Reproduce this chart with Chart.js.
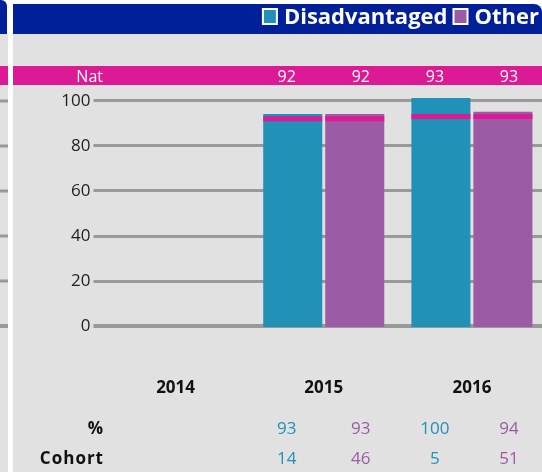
<!DOCTYPE html>
<html>
<head>
<meta charset="utf-8">
<script src="https://cdn.jsdelivr.net/npm/chart.js@4.4.1/dist/chart.umd.min.js"></script>
<style>
    html, body { margin: 0; padding: 0; background: #fff; overflow: hidden; }
    #wrap { width: 542px; height: 472px; overflow: hidden; }
    canvas { display: block; }
</style>
</head>
<body>
<div id="wrap"><canvas id="chart" width="546" height="472"></canvas></div>
<script>
// --- data ---
const years = ["2014", "2015", "2016"];
const disadvantaged = [null, 93, 100];
const other = [null, 93, 94];
const natDisadvantaged = [null, 92, 93];
const natOther = [null, 92, 93];
const cohortDisadvantaged = [null, 14, 5];
const cohortOther = [null, 46, 51];
const yTicks = [0, 20, 40, 60, 80, 100];

// --- styles ---
const TEAL = "#2191b8";
const PURPLE = "#9b5ca5";
const MAGENTA = "#dc1a96";
const NAVY = "#00209a";
const PANEL = "#e1e1e1";
const GRID = "#999999";
const FONT = "'Open Sans', 'Noto Sans', sans-serif";

function drawText(ctx, str, x, y, font, color, align, spacing) {
    ctx.save();
    ctx.font = font;
    ctx.fillStyle = color;
    ctx.textAlign = align || "center";
    ctx.textBaseline = "alphabetic";
    if (spacing) ctx.letterSpacing = spacing;
    ctx.fillText(str, x, y);
    ctx.restore();
}

// panel background, header bar, Nat row, legend and the table under the chart
const panelPlugin = {
    id: "panel",
    beforeDraw(chart) {
        const ctx = chart.ctx;
        const W = 542, H = chart.height;
        ctx.save();
        ctx.fillStyle = "#fff";
        ctx.fillRect(0, 0, chart.width, H);

        // neighbouring panel cut off on the left
        ctx.fillStyle = PANEL;
        ctx.fillRect(0, 34, 8, H - 34);
        ctx.fillStyle = NAVY;
        ctx.beginPath();
        ctx.roundRect(0, 0, 7, 34, [0, 6, 0, 0]);
        ctx.fill();

        // main panel
        ctx.fillStyle = PANEL;
        ctx.fillRect(13, 34, chart.width - 13, H - 34);
        ctx.fillStyle = NAVY;
        ctx.beginPath();
        ctx.roundRect(13, 4, W - 13, 30, [0, 8, 0, 0]);
        ctx.fill();

        // national row
        ctx.fillStyle = MAGENTA;
        ctx.fillRect(0, 66, 8, 19);
        ctx.fillRect(13, 66, chart.width - 13, 19);

        // gridlines continuing in the left strip
        const g = chart.scales.yGrid;
        ctx.strokeStyle = GRID;
        yTicks.forEach(v => {
            const y = g.getPixelForValue(v);
            ctx.lineWidth = v === 0 ? 4 : 3;
            ctx.beginPath();
            ctx.moveTo(0, y);
            ctx.lineTo(8, y);
            ctx.stroke();
        });
        ctx.restore();
    },
    afterDatasetsDraw(chart) {
        // national average marker across each bar
        const ctx = chart.ctx;
        const yScale = chart.scales.y;
        ctx.save();
        ctx.fillStyle = MAGENTA;
        chart.data.datasets.forEach((ds, i) => {
            chart.getDatasetMeta(i).data.forEach((bar, j) => {
                const nat = ds.nat[j];
                if (nat == null) return;
                const top = yScale.getPixelForValue(nat);
                ctx.fillRect(bar.x - bar.width / 2, top, bar.width, 5);
            });
        });
        ctx.restore();
    },
    afterDraw(chart) {
        const ctx = chart.ctx;
        const datasets = chart.data.datasets;

        // legend in the header, right aligned
        const legendFont = "bold 22px " + FONT;
        ctx.save();
        ctx.font = legendFont;
        const widths = datasets.map(ds => 21 + ctx.measureText(ds.label).width);
        ctx.restore();
        let lx = 539 - widths.reduce((a, b) => a + b, 0) - 6 * (datasets.length - 1);
        datasets.forEach((ds, i) => {
            ctx.save();
            ctx.fillStyle = ds.backgroundColor;
            ctx.strokeStyle = "#fff";
            ctx.lineWidth = 2;
            ctx.fillRect(lx, 9, 14, 15);
            ctx.strokeRect(lx, 9, 14, 15);
            ctx.restore();
            drawText(ctx, ds.label, lx + 21, 24, legendFont, "#fff", "left");
            lx += widths[i] + 6;
        });

        // row labels
        drawText(ctx, "Nat", 103, 82, "16px " + FONT, "#fff", "right");
        drawText(ctx, "%", 103, 434, "bold 17px " + FONT, "#111", "right");
        drawText(ctx, "Cohort", 104, 464, "bold 17px " + FONT, "#111", "right", "1px");

        // table columns sit a quarter category either side of each year
        const xs = chart.scales.x;
        const quarter = (xs.right - xs.left) / years.length / 4;
        years.forEach((yr, j) => {
            const cx = xs.getPixelForValue(j);
            datasets.forEach((ds, i) => {
                const colX = cx + (i === 0 ? -quarter : quarter);
                if (ds.nat[j] != null) drawText(ctx, String(ds.nat[j]), colX, 82, "16px " + FONT, "#fff");
                if (ds.data[j] != null) drawText(ctx, String(ds.data[j]), colX, 434, "17px " + FONT, ds.backgroundColor);
                if (ds.cohort[j] != null) drawText(ctx, String(ds.cohort[j]), colX, 464, "17px " + FONT, ds.backgroundColor);
            });
        });
    }
};

new Chart(document.getElementById("chart"), {
    type: "bar",
    data: {
        labels: years,
        datasets: [
            { label: "Disadvantaged", data: disadvantaged, backgroundColor: TEAL, nat: natDisadvantaged, cohort: cohortDisadvantaged, yAxisID: "y" },
            { label: "Other", data: other, backgroundColor: PURPLE, nat: natOther, cohort: cohortOther, yAxisID: "y" }
        ]
    },
    options: {
        responsive: false,
        animation: false,
        devicePixelRatio: 1,
        categoryPercentage: 0.837,
        barPercentage: 0.952,
        layout: { padding: { top: 98, right: 0, bottom: 0, left: 0 } },
        plugins: {
            legend: { display: false },
            tooltip: { enabled: false }
        },
        scales: {
            x: {
                offset: true,
                grid: { display: false },
                border: { display: false },
                ticks: {
                    color: "#111",
                    font: { family: FONT, size: 17, weight: "bold" },
                    padding: 43,
                    maxRotation: 0
                },
                afterFit: s => { s.height = 145; }
            },
            y: { display: false, min: 0, max: 100 },
            yGrid: {
                position: "left",
                min: -0.444,
                max: 101.333,
                afterBuildTicks: s => { s.ticks = yTicks.map(v => ({ value: v })); },
                grid: {
                    color: GRID,
                    lineWidth: c => (c.tick && c.tick.value === 0 ? 4 : 3),
                    drawTicks: true,
                    tickLength: 8,
                    tickColor: GRID
                },
                border: { display: false },
                ticks: { color: "#1f1f1f", font: { family: FONT, size: 17 }, padding: 3 },
                afterFit: s => { s.width = 101.5; }
            }
        }
    },
    plugins: [panelPlugin]
});
</script>
</body>
</html>
